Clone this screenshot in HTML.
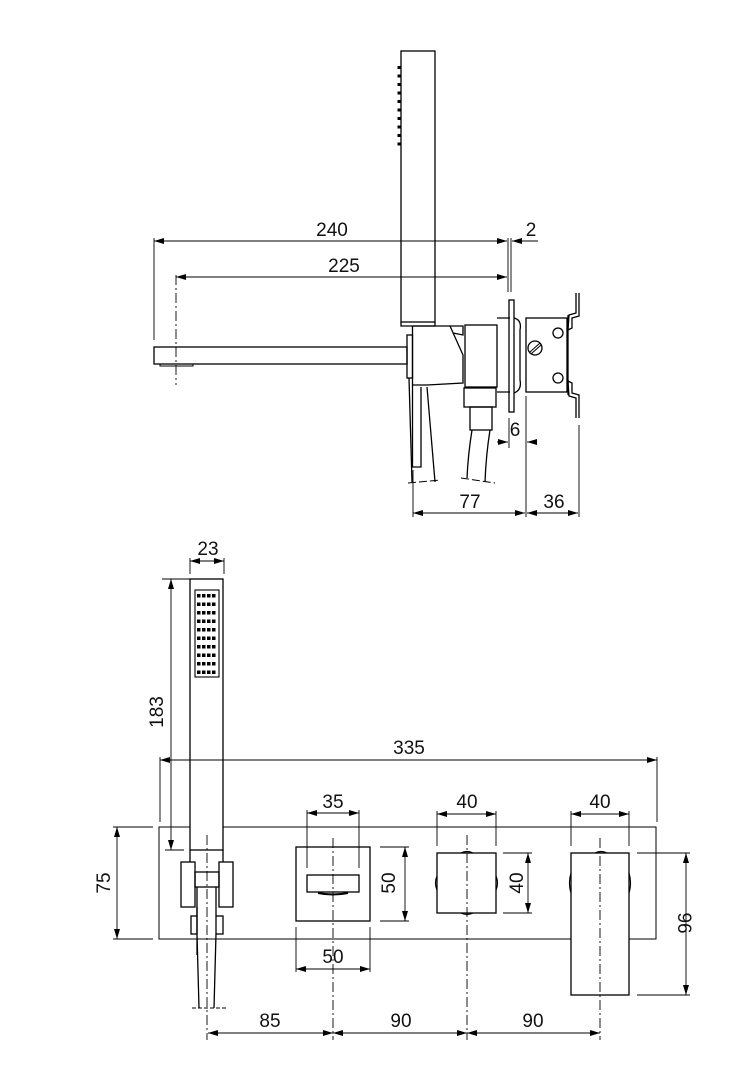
<!DOCTYPE html>
<html><head><meta charset="utf-8"><style>
html,body{margin:0;padding:0;background:#fff}
svg{display:block}
text{font-family:"Liberation Sans",sans-serif;font-size:19px;fill:#111}
</style></head><body>
<svg width="735" height="1076" viewBox="0 0 735 1076" xmlns="http://www.w3.org/2000/svg">
<defs>
<marker id="a" viewBox="0 0 10 6" refX="10" refY="3" markerWidth="10" markerHeight="6" orient="auto-start-reverse" markerUnits="userSpaceOnUse"><path d="M0,0 L10,3 L0,6 Z" fill="#000"/></marker>
</defs>
<g fill="none" stroke="#000" stroke-width="1.3">
<rect x="401" y="51" width="34" height="271"/>
<g fill="#000" stroke="none">
<rect x="397.5" y="66" width="3" height="3"/><rect x="397.5" y="74.5" width="3" height="3"/><rect x="397.5" y="83" width="3" height="3"/><rect x="397.5" y="91.5" width="3" height="3"/><rect x="397.5" y="100" width="3" height="3"/><rect x="397.5" y="108.5" width="3" height="3"/><rect x="397.5" y="117" width="3" height="3"/><rect x="397.5" y="125.5" width="3" height="3"/><rect x="397.5" y="134" width="3" height="3"/><rect x="397.5" y="142.5" width="3" height="3"/>
</g>
<path d="M401,322 L401,326 L435,326 L435,322"/>
<rect x="154" y="347" width="253" height="17"/>
<path d="M160,364 L160,366 L193,366 L193,364" stroke-width="1"/>
<rect x="407" y="335" width="5.5" height="43"/>
<path d="M412.5,326 L450,326 L463,355 L463,383 L427,385 L412.5,385 Z"/>
<path d="M450,326 L463,326 L463,335 L453,333"/>
<path d="M412.5,385 L412.5,467 L421,467 L421,387"/>
<path d="M409,378 L412,482"/>
<path d="M427,387 L435,482"/>
<rect x="465" y="325" width="32" height="62"/>
<path d="M497,318 L510,318 M497,392 L510,392"/>
<rect x="509" y="300" width="5" height="112"/>
<path d="M514,318 Q522,320 520,330 L520,380 Q522,390 514,393"/>
<rect x="526" y="318" width="41" height="74"/>
<circle cx="535" cy="348" r="7"/>
<path d="M530,352 L540,343 M531,354 L541,345" stroke-width="1"/>
<circle cx="558" cy="333" r="5"/>
<circle cx="558" cy="378" r="5"/>
<path d="M576,293 L576,313 L569,315 L568,330 L572,328 L572,318 L579,316 L579,293"/>
<path d="M576,418 L576,398 L569,396 L568,381 L572,383 L572,393 L579,395 L579,418"/>
<path d="M568,315 L568,395"/>
<rect x="464" y="388" width="32" height="19"/>
<rect x="470" y="407" width="22" height="23"/>
<path d="M472,430 Q468,455 467,478 M490,430 Q486,455 485,482"/>
<path d="M408,483 L440,480 M461,478 L495,483" stroke-dasharray="8,3" stroke-width="1"/>
</g>
<g fill="none" stroke="#000" stroke-width="0.9">
<path d="M154,238 L154,340 M508,238 L508,292 M511,238 L511,292"/>
<path d="M176,275 L176,385" stroke-dasharray="10,3,2,3"/>
<line x1="154" y1="241" x2="507" y2="241" marker-start="url(#a)" marker-end="url(#a)"/>
<line x1="538" y1="241" x2="512" y2="241" marker-end="url(#a)"/>
<line x1="176" y1="277" x2="507" y2="277" marker-start="url(#a)" marker-end="url(#a)"/>
<path d="M509,418 L509,448 M526,396 L526,517 M579,425 L579,517 M413,470 L413,517"/>
<line x1="497" y1="442" x2="508" y2="442" marker-end="url(#a)"/>
<line x1="537" y1="442" x2="527" y2="442" marker-end="url(#a)"/>
<line x1="413" y1="513" x2="525" y2="513" marker-start="url(#a)" marker-end="url(#a)"/>
<line x1="527" y1="513" x2="578" y2="513" marker-start="url(#a)" marker-end="url(#a)"/>
</g>
<text x="332" y="236" text-anchor="middle">240</text>
<text x="531" y="236" text-anchor="middle">2</text>
<text x="344" y="272" text-anchor="middle">225</text>
<text x="515" y="436" text-anchor="middle">6</text>
<text x="470" y="508" text-anchor="middle">77</text>
<text x="554" y="508" text-anchor="middle">36</text>

<g fill="none" stroke="#000" stroke-width="1.3">
<path d="M190,827 L159,827 L159,939 L571,939 M629,939 L656,939 L656,827 L223,827" stroke-width="1"/>
<rect x="190" y="579" width="33" height="271"/>
<rect x="195" y="590" width="24" height="87" stroke-width="1.1"/>
<path d="M190,850 L190,862 M223,850 L223,862"/>
<rect x="181" y="862" width="14" height="45"/>
<rect x="219" y="862" width="14" height="45"/>
<rect x="195" y="872" width="24" height="15"/>
<path d="M197,887 L197,916 M216,887 L216,916"/>
<rect x="191" y="916" width="6" height="18"/>
<rect x="216" y="916" width="7" height="18"/>
<path d="M197,934 L199,1008 M216,934 L214,1008 M197,907 L197,955"/>
<path d="M192,1008 L226,1008" stroke-dasharray="4,2" stroke-width="1"/>
<rect x="296" y="847" width="74" height="74"/>
<rect x="307" y="875" width="52" height="17"/>
<path d="M318,893 Q333,896 348,893" stroke-width="2"/>
<rect x="437" y="853" width="59" height="60"/>
<path d="M461,853 Q467,850 473,853 M461,913 Q467,916 473,913 M437,876 Q434,883 437,890 M496,876 Q499,883 496,890" stroke-width="1.2"/>
<rect x="571" y="853" width="58" height="142"/>
<path d="M595,853 Q601,850 607,853 M571,873 Q568,883 571,893 M629,873 Q632,883 629,893" stroke-width="1.2"/>
</g>
<g fill="#000" stroke="none">
<g id="r"><rect x="197" y="594" width="3.5" height="3.5"/><rect x="202" y="594" width="3.5" height="3.5"/><rect x="207" y="594" width="3.5" height="3.5"/><rect x="212" y="594" width="3.5" height="3.5"/></g>
<use href="#r" y="8.5"/><use href="#r" y="17"/><use href="#r" y="25.5"/><use href="#r" y="34"/><use href="#r" y="42.5"/><use href="#r" y="51"/><use href="#r" y="59.5"/><use href="#r" y="68"/><use href="#r" y="76.5"/>
</g>
<g fill="none" stroke="#000" stroke-width="0.9">
<path d="M207,835 L207,1040 M333,838 L333,1040 M467,835 L467,1040 M600,838 L600,1040" stroke-dasharray="10,3,2,3"/>
<path d="M190,558 L190,574 M224,558 L224,574"/>
<line x1="190" y1="561" x2="224" y2="561" marker-start="url(#a)" marker-end="url(#a)"/>
<path d="M162,579 L190,579 M165,850 L184,850"/>
<line x1="171" y1="579" x2="171" y2="850" marker-start="url(#a)" marker-end="url(#a)"/>
<path d="M160,757 L160,822 M657,757 L657,822"/>
<line x1="160" y1="760" x2="657" y2="760" marker-start="url(#a)" marker-end="url(#a)"/>
<path d="M113,827 L153,827 M113,939 L153,939"/>
<line x1="117" y1="827" x2="117" y2="939" marker-start="url(#a)" marker-end="url(#a)"/>
<path d="M307,810 L307,868 M359,810 L359,868"/>
<line x1="307" y1="813" x2="359" y2="813" marker-start="url(#a)" marker-end="url(#a)"/>
<path d="M380,847 L409,847 M380,921 L409,921"/>
<line x1="405" y1="847" x2="405" y2="921" marker-start="url(#a)" marker-end="url(#a)"/>
<path d="M296,927 L296,972 M370,927 L370,972"/>
<line x1="296" y1="969" x2="370" y2="969" marker-start="url(#a)" marker-end="url(#a)"/>
<path d="M437,811 L437,846 M496,811 L496,846"/>
<line x1="437" y1="814" x2="496" y2="814" marker-start="url(#a)" marker-end="url(#a)"/>
<path d="M503,853 L532,853 M503,913 L532,913"/>
<line x1="528" y1="853" x2="528" y2="913" marker-start="url(#a)" marker-end="url(#a)"/>
<path d="M571,811 L571,846 M629,811 L629,846"/>
<line x1="571" y1="814" x2="629" y2="814" marker-start="url(#a)" marker-end="url(#a)"/>
<path d="M637,853 L690,853 M637,995 L690,995"/>
<line x1="686" y1="853" x2="686" y2="995" marker-start="url(#a)" marker-end="url(#a)"/>
<line x1="208" y1="1033" x2="333" y2="1033" marker-start="url(#a)" marker-end="url(#a)"/>
<line x1="333" y1="1033" x2="467" y2="1033" marker-start="url(#a)" marker-end="url(#a)"/>
<line x1="467" y1="1033" x2="600" y2="1033" marker-start="url(#a)" marker-end="url(#a)"/>
</g>
<text x="208" y="555" text-anchor="middle">23</text>
<text transform="translate(163,712) rotate(-90)" text-anchor="middle">183</text>
<text x="409" y="754" text-anchor="middle">335</text>
<text transform="translate(110,883) rotate(-90)" text-anchor="middle">75</text>
<text x="333" y="808" text-anchor="middle">35</text>
<text transform="translate(395,883) rotate(-90)" text-anchor="middle">50</text>
<text x="333" y="963" text-anchor="middle">50</text>
<text x="467" y="808" text-anchor="middle">40</text>
<text transform="translate(523,883) rotate(-90)" text-anchor="middle">40</text>
<text x="600" y="808" text-anchor="middle">40</text>
<text transform="translate(678,923) rotate(90)" text-anchor="middle">96</text>
<text x="270" y="1027" text-anchor="middle">85</text>
<text x="401" y="1027" text-anchor="middle">90</text>
<text x="533" y="1027" text-anchor="middle">90</text>
</svg>
</body></html>
